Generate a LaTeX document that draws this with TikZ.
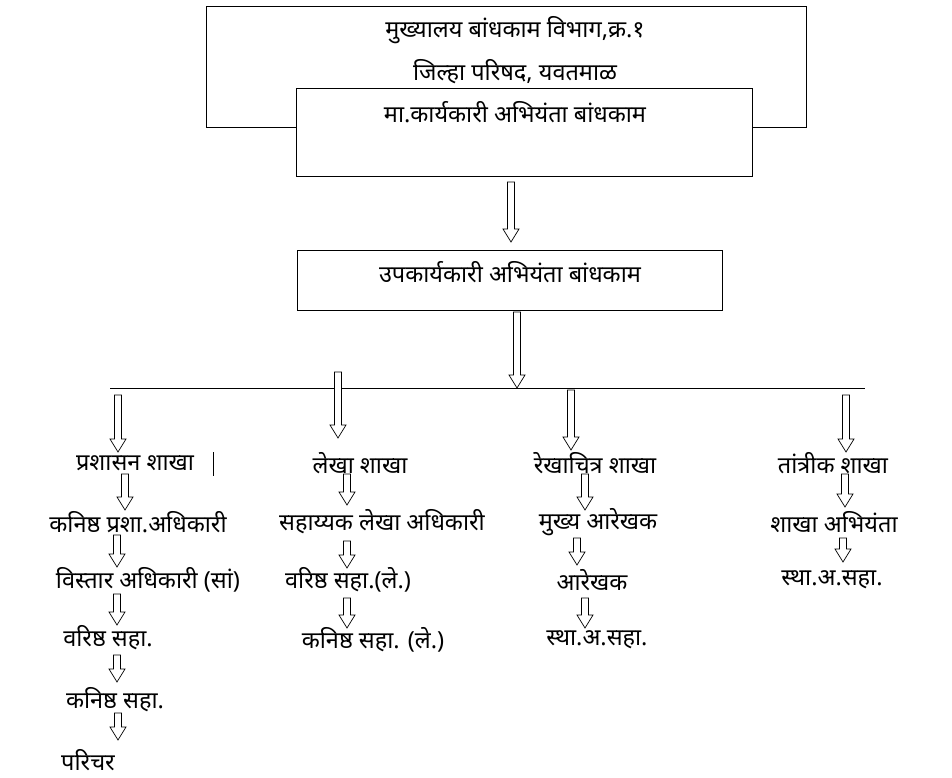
\documentclass[tikz,border=0pt]{standalone}
\usepackage{fontspec}
\newfontfamily\dev[Script=Devanagari]{Noto Sans}
\newcommand\hollowarr[3]{% x, ytop, ybottom
  \draw[line width=0.7pt,fill=white] (#1-3.5,#2) -- (#1+3.5,#2) -- (#1+3.5,#3-13) -- (#1+8,#3-13) -- (#1,#3) -- (#1-8,#3-13) -- (#1-3.5,#3-13) -- cycle;}
\begin{document}
\begin{tikzpicture}[x=1pt,y=-1pt,every node/.style={font=\dev\fontsize{23.5}{26}\selectfont,inner sep=0pt},
 box/.style={draw,line width=0.8pt,fill=white}]
\useasboundingbox (0,0) rectangle (952,777);
\draw[line width=0.8pt] (206,127) -- (206,6) -- (806,6) -- (806,127) -- (206,127);
\draw[box] (296,88) rectangle (752,176);
\node (t1) at (515,30) {मुख्यालय बांधकाम विभाग,क्र.१};
\node (t2) at (515,72) {जिल्हा परिषद, यवतमाळ};
\node (t3) at (515,112) {मा.कार्यकारी अभियंता बांधकाम};
\hollowarr{511}{182}{242}
\draw[box] (297,250) rectangle (722,310);
\node (u) at (510,272) {उपकार्यकारी अभियंता बांधकाम};
\hollowarr{517}{312}{388}
\draw[line width=0.8pt] (110,388) -- (865,388);
\hollowarr{118}{395}{452}
\hollowarr{338}{372}{438}
\hollowarr{571}{390}{450}
\hollowarr{846}{395}{452}
\node (a) at (135,463) {प्रशासन शाखा};
\draw[line width=0.8pt] (213,452) -- (213,476);
\node (b) at (360,463) {लेखा शाखा};
\node (c) at (595,463) {रेखाचित्र शाखा};
\node (d) at (833,463) {तांत्रीक शाखा};
\hollowarr{125}{474}{510}
\node at (138,522) {कनिष्ठ प्रशा.अधिकारी};
\hollowarr{117}{535}{567}
\node at (148,580) {विस्तार अधिकारी (सां)};
\hollowarr{117}{594}{625}
\node at (108,638) {वरिष्ठ सहा.};
\hollowarr{117}{655}{682}
\node at (115,700) {कनिष्ठ सहा.};
\hollowarr{118}{713}{740}
\node at (88,760) {परिचर};
\hollowarr{347}{474}{505}
\node at (382,522) {सहाय्यक लेखा अधिकारी};
\hollowarr{347}{541}{568}
\node at (348,580) {वरिष्ठ सहा.(ले.)};
\hollowarr{347}{598}{628}
\node at (373,640) {कनिष्ठ सहा. (ले.)};
\hollowarr{585}{474}{510}
\node at (598,522) {मुख्य आरेखक};
\hollowarr{577}{538}{565}
\node at (592,580) {आरेखक};
\hollowarr{585}{598}{628}
\node at (597,640) {स्था.अ.सहा.};
\hollowarr{845}{474}{507}
\node at (834,522) {शाखा अभियंता};
\hollowarr{843}{538}{562}
\node at (832,580) {स्था.अ.सहा.};
\end{tikzpicture}
\end{document}
